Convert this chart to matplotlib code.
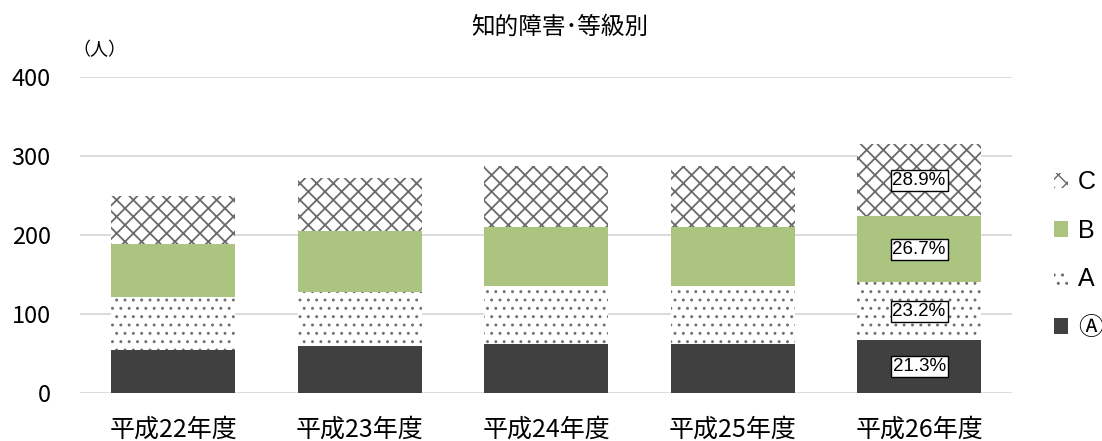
import matplotlib

matplotlib.use("Agg")
import matplotlib.pyplot as plt
import numpy as np
from matplotlib.patches import Patch

plt.rcParams["font.family"] = ["Noto Sans CJK JP", "DejaVu Sans"]

# data (people per grade)
years = ["平成22年度", "平成23年度", "平成24年度", "平成25年度", "平成26年度"]
grade_a_circ = [54, 59, 62, 62, 67]   # Ⓐ
grade_a = [68, 69, 73, 73, 73]        # A
grade_b = [67, 77, 75, 75, 84]        # B
grade_c = [61, 67, 77, 77, 91]        # C
last_pct = ["21.3%", "23.2%", "26.7%", "28.9%"]  # labels on the last bar, bottom -> top

# (label, values, style, hatch linewidth)
series = [
    ("Ⓐ", grade_a_circ, dict(facecolor="#404040", edgecolor="#404040"), 1.0),
    ("A", grade_a, dict(facecolor="white", edgecolor="#6e6e6e", hatch=".."), 0.9),
    ("B", grade_b, dict(facecolor="#abc581", edgecolor="#abc581"), 1.0),
    ("C", grade_c, dict(facecolor="white", edgecolor="#6a6a6a", hatch="xx"), 1.3),
]

fig = plt.figure(figsize=(11.02, 4.41), dpi=100)
ax = fig.add_axes([0.0726, 0.109, 0.846, 0.716])

x = np.arange(len(years))
width = 0.665
bottom = np.zeros(len(years))
handles = []
for name, vals, style, hlw in series:
    vals = np.array(vals, dtype=float)
    with plt.rc_context({"hatch.linewidth": hlw}):
        ax.bar(x, vals, width, bottom=bottom, linewidth=0, zorder=2, **style)
        handles.append(Patch(linewidth=0, label=name, **style))
    bottom += vals

# percentage boxes on the most recent year
cum = 0.0
for (name, vals, _, _), pct in zip(series, last_pct):
    v = vals[-1]
    ax.text(x[-1], cum + v / 2, pct, ha="center", va="center", fontsize=13.5,
            family=["Liberation Sans Narrow", "Liberation Sans", "DejaVu Sans"],
            bbox=dict(boxstyle="square,pad=0.1", fc="white", ec="black", lw=1.0),
            zorder=4)
    cum += v

ax.set_ylim(0, 400)
ax.set_xlim(-0.5, len(years) - 0.5)
ax.set_yticks([0, 100, 200, 300, 400])
ax.grid(axis="y", color="#d9d9d9", lw=1.3, zorder=0)
ax.set_axisbelow(True)
for s in ax.spines.values():
    s.set_visible(False)
ax.tick_params(axis="both", length=0)
ax.tick_params(axis="y", pad=21, labelsize=17)
ax.tick_params(axis="x", pad=17)
ax.set_xticks(x)
ax.set_xticklabels(years, fontsize=18)

fig.text(0.508, 0.938, "知的障害･等級別", ha="center", va="center", fontsize=17)
fig.text(0.066, 0.887, "（人）", ha="left", va="center", fontsize=13)

fig.legend(handles=handles[::-1], loc="center left", bbox_to_anchor=(0.956, 0.422),
           frameon=False, prop={"family": ["Liberation Sans", "Noto Sans CJK JP"], "size": 18},
           handlelength=0.58, handleheight=0.58,
           handletextpad=0.4, labelspacing=0.98, borderpad=0, borderaxespad=0)

fig.savefig("out.png", dpi=100)
